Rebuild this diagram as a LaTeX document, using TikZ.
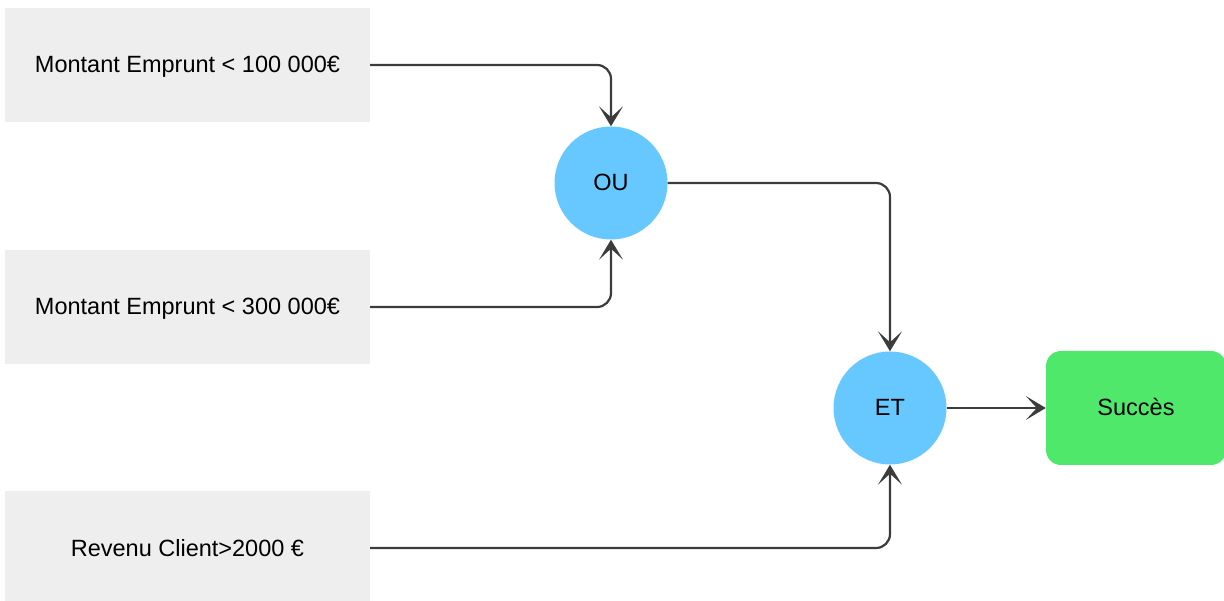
\documentclass[tikz,border=0pt]{standalone}
\usepackage{fontspec}
\setmainfont{Liberation Sans}
\usetikzlibrary{arrows.meta,shapes.geometric}
\definecolor{boxgray}{RGB}{238,238,238}
\definecolor{gateblue}{RGB}{102,200,255}
\definecolor{okgreen}{RGB}{80,232,106}
\definecolor{linegray}{RGB}{60,60,60}
\tikzset{
  txt/.style={font=\fontsize{23.5}{28}\selectfont, text height=16pt, text depth=0pt},
  cond/.style={txt, fill=boxgray, minimum width=365pt, minimum height=114pt, inner sep=0pt},
  gate/.style={txt, ellipse, fill=gateblue, minimum width=113pt, minimum height=113pt, inner sep=0pt},
  result/.style={txt, fill=okgreen, rounded corners=15pt, minimum width=180pt, minimum height=114pt, inner sep=0pt},
  link/.style={draw=linegray, line width=2.2pt, rounded corners=14pt, -{Stealth[length=20pt,width=24pt,inset=11pt,line width=0pt]}}
}
\begin{document}
\begin{tikzpicture}[x=1pt,y=-1pt]
\useasboundingbox (0,0) rectangle (1224,601);
\node[cond] (c1) at (187.5,65) {Montant Emprunt < 100 000€};
\node[cond] (c2) at (187.5,307) {Montant Emprunt < 300 000€};
\node[cond] (c3) at (187.5,548) {Revenu Client>2000 €};
\node[gate] (ou) at (611,183) {OU};
\node[gate] (et) at (890,408) {ET};
\node[result] (ok) at (1136,408) {Succès};
\draw[link] (c1.east) -| (ou.north);
\draw[link] (c2.east) -| (ou.south);
\draw[link] (ou.east) -| (et.north);
\draw[link] (c3.east) -| (et.south);
\draw[link] (et.east) -- (ok.west);
\end{tikzpicture}
\end{document}
